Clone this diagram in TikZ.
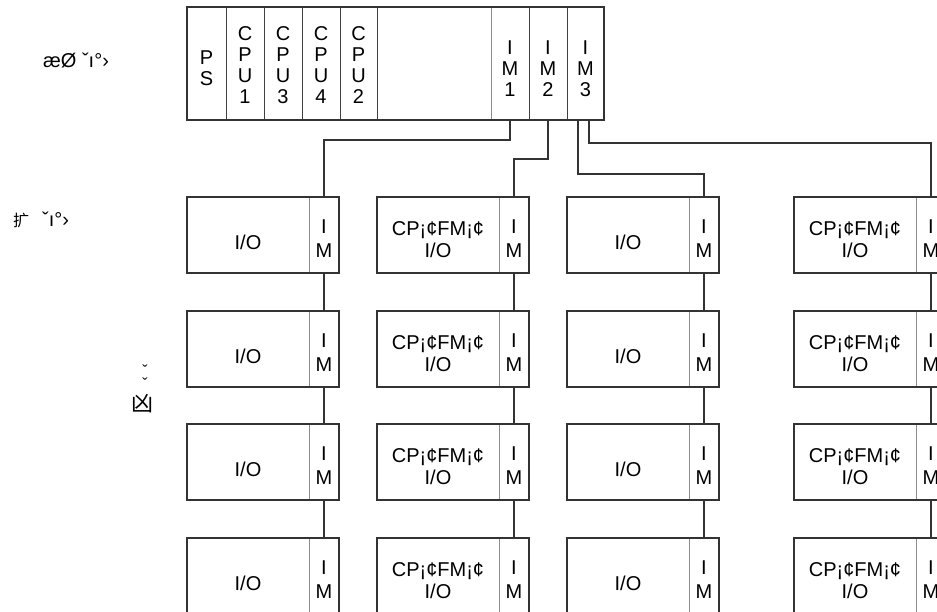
\documentclass[tikz,border=0pt]{standalone}
\usepackage{fontspec}
\setmainfont{Liberation Sans}
\newfontfamily\cjk{Noto Sans CJK SC}
\begin{document}
\begin{tikzpicture}[x=1pt,y=-1pt,
  conn/.style={draw=black!80, line width=1.4pt},
  outer/.style={draw=black!80, line width=1.5pt},
  slot/.style={draw=black!75, line width=0.8pt, minimum height=113pt, inner sep=0pt,
    outer sep=0pt, anchor=north west},
  slottxt/.style={align=center, inner sep=0pt, font=\fontsize{20}{21}\selectfont},
  iobox/.style={draw=black!45, line width=0.8pt, minimum width=122pt, minimum height=76pt,
    inner sep=0pt, outer sep=0pt, anchor=north west},
  imbox/.style={draw=black!45, line width=0.8pt, minimum width=30pt, minimum height=76pt,
    inner sep=0pt, outer sep=0pt, anchor=north west,
    label={[align=center, inner sep=0pt, yshift=-4pt, font=\fontsize{20}{24}\selectfont]center:I\\M}},
  boxtxt/.style={align=center, inner sep=0pt, font=\fontsize{20}{22}\selectfont},
  lab/.style={inner sep=0pt, font=\fontsize{20}{20}\selectfont}
]
\fill[white] (0,0) rectangle (937,611);
\clip (0,0) rectangle (937,611);

% main rack
\node[slot, minimum width=39pt, label={[slottxt, yshift=-5pt]center:P\\S}] (ps) at (187,7) {};
\node[slot, minimum width=38pt, label={[slottxt, yshift=-1.5pt]center:C\\P\\U\\1}] (cpu1) at (ps.north east) {};
\node[slot, minimum width=38pt, label={[slottxt, yshift=-1.5pt]center:C\\P\\U\\3}] (cpu3) at (cpu1.north east) {};
\node[slot, minimum width=38pt, label={[slottxt, yshift=-1.5pt]center:C\\P\\U\\4}] (cpu4) at (cpu3.north east) {};
\node[slot, minimum width=37pt, label={[slottxt, yshift=-1.5pt]center:C\\P\\U\\2}] (cpu2) at (cpu4.north east) {};
\node[slot, draw=none, minimum width=114pt] (empty) at (cpu2.north east) {};
\node[slot, draw=black!45, minimum width=38pt, label={[slottxt, yshift=-5pt]center:I\\M\\1}] (im1) at (empty.north east) {};
\node[slot, minimum width=38pt, label={[slottxt, yshift=-5pt]center:I\\M\\2}] (im2) at (im1.north east) {};
\node[slot, minimum width=37pt, label={[slottxt, yshift=-5pt]center:I\\M\\3}] (im3) at (im2.north east) {};
\draw[draw=black!80, line width=1.8pt] (ps.north west) rectangle (im3.south east);

% expansion racks
\foreach \r/\y in {1/197,2/311,3/424,4/538}{
  \foreach \c/\x in {1/187,3/567}{
    \node[iobox, label={[boxtxt, yshift=-7pt]center:I/O}] (io\r\c) at (\x,\y) {};
    \node[imbox] (m\r\c) at (io\r\c.north east) {};
    \draw[outer] (io\r\c.north west) rectangle (m\r\c.south east);
  }
  \foreach \c/\x in {2/377,4/794}{
    \node[iobox, label={[boxtxt, yshift=-5pt]center:CP¡¢FM¡¢\\I/O}] (io\r\c) at (\x,\y) {};
    \node[imbox] (m\r\c) at (io\r\c.north east) {};
    \draw[outer] (io\r\c.north west) rectangle (m\r\c.south east);
  }
}

% vertical links between expansion racks
\foreach \c in {1,2,3,4}{
  \foreach \r/\s in {1/2,2/3,3/4}{
    \draw[conn] (m\r\c.south) -- (m\s\c.north);
  }
}

% links from main rack
\draw[conn] (im1.south) -- ++(0,20) -| (m11.north);
\draw[conn] (im2.south) -- ++(0,39) -| (m12.north);
\draw[conn] ([xshift=-7.5pt]im3.south) -- ++(0,54) -| (m13.north);
\draw[conn] ([xshift=3.5pt]im3.south) -- ++(0,23) -| (m14.north);

% side labels
\node[lab, anchor=west] (lmain) at (43,60) {æØ ˇı°›};
\node[lab, anchor=west] (lexp) at (13,220) {{\cjk\fontsize{16}{16}\selectfont 扩}\hspace{13pt}ˇı°›};
\node[inner sep=0pt, align=center, font=\fontsize{16}{5}\selectfont] (lsym) at (145,377) {ˇ\\ˇ};
\node[inner sep=0pt, font=\cjk\fontsize{22}{22}\selectfont] (lqu) at (142,404) {凶};
\end{tikzpicture}
\end{document}
